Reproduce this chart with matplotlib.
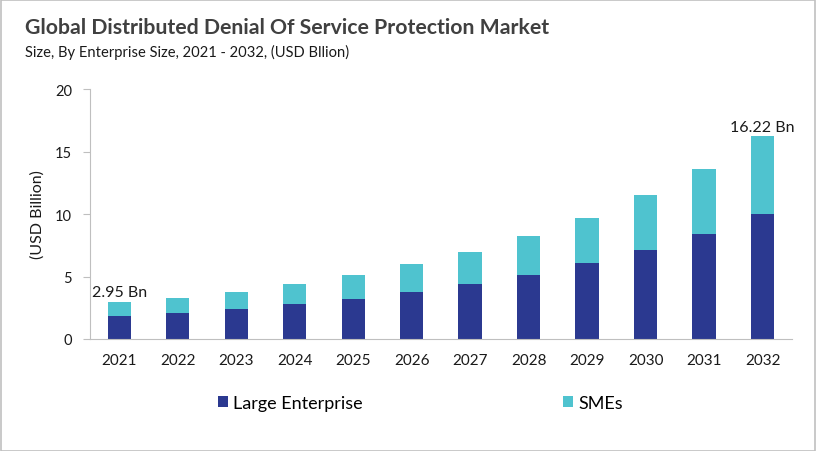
import matplotlib.pyplot as plt
from matplotlib.patches import Rectangle
import numpy as np

# data
years = ['2021', '2022', '2023', '2024', '2025', '2026',
         '2027', '2028', '2029', '2030', '2031', '2032']
large_enterprise = [1.87, 2.08, 2.40, 2.80, 3.20, 3.76,
                    4.40, 5.12, 6.08, 7.12, 8.40, 10.00]
smes = [1.08, 1.20, 1.36, 1.60, 1.92, 2.24,
        2.56, 3.12, 3.60, 4.40, 5.20, 6.22]
totals_shown = {0: '2.95 Bn', 11: '16.22 Bn'}

dark = '#2B3990'
teal = '#4FC3CF'
grey = '#BFBFBF'

plt.rcParams['font.family'] = ['Lato', 'DejaVu Sans']

fig = plt.figure(figsize=(8.17, 4.52), dpi=100)
ax = fig.add_axes([0.1102, 0.2478, 0.859, 0.553])

x = np.arange(len(years))
ax.bar(x, large_enterprise, width=0.4, color=dark, label='Large Enterprise')
ax.bar(x, smes, width=0.4, bottom=large_enterprise, color=teal, label='SMEs')

for i, txt in totals_shown.items():
    top = large_enterprise[i] + smes[i]
    ax.annotate(txt, (x[i], top), xytext=(0, 2), textcoords='offset points',
                ha='center', va='bottom', fontsize=11.5, color='#1a1a1a')

ax.set_xlim(-0.5, 11.5)
ax.set_ylim(0, 20)
ax.set_yticks([0, 5, 10, 15, 20])
ax.set_xticks(x)
ax.set_xticklabels(years)
ax.tick_params(axis='x', length=0, pad=10, labelsize=11, labelcolor='#1a1a1a')
ax.tick_params(axis='y', length=5, color=grey, pad=8, labelsize=10.5, labelcolor='#1a1a1a')

for s in ['top', 'right']:
    ax.spines[s].set_visible(False)
for s in ['left', 'bottom']:
    ax.spines[s].set_color(grey)

ax.set_ylabel('(USD Billion)', fontsize=11.5, color='#1a1a1a', labelpad=7)

fig.text(0.031, 0.938, 'Global Distributed Denial Of Service Protection Market',
         fontsize=15.3, fontweight='bold', color='#404040', va='center')
fig.text(0.031, 0.885, 'Size, By Enterprise Size, 2021 - 2032, (USD Bllion)',
         fontsize=10.6, color='#1a1a1a', va='center')

fig.legend(loc='center', bbox_to_anchor=(0.515, 0.106), ncol=2, frameon=False,
           fontsize=13, handlelength=0.55, handleheight=0.55, handletextpad=0.3,
           columnspacing=11.1)

# thin grey frame around the whole image
fig.patches.append(Rectangle((0.001, 0.001), 0.997, 0.996, transform=fig.transFigure,
                             fill=False, edgecolor='#C0C0C0', linewidth=1.2))

fig.savefig('out.png', dpi=100)
